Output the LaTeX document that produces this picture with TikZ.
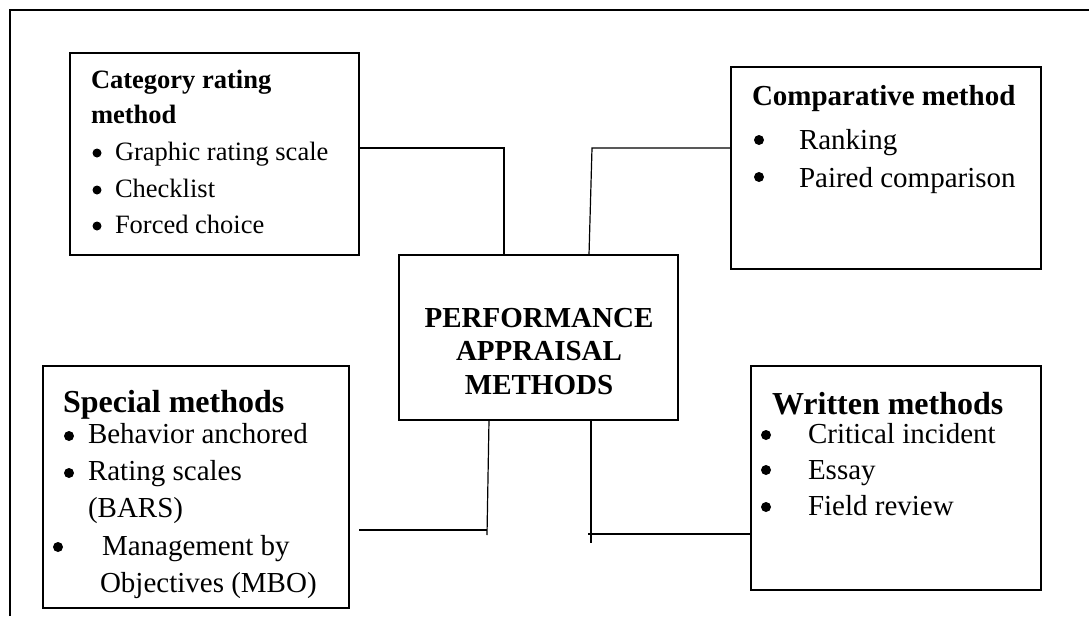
\documentclass[tikz,border=0pt]{standalone}
\usepackage{fontspec}
\setmainfont{Liberation Serif}
\begin{document}
\begin{tikzpicture}[x=1pt,y=-1pt,
  box/.style={draw,line width=1.6pt,rectangle,inner sep=0pt,outer sep=0pt,anchor=north west},
  link/.style={line width=1.2pt},
  txt/.style={anchor=base west,inner sep=0pt,outer sep=0pt},
  ctr/.style={anchor=base,inner sep=0pt,outer sep=0pt},
  dot/.style={circle,fill=black,inner sep=0pt,outer sep=0pt,minimum size=#1},
  dot/.default=10pt,
  fa/.style={font=\fontsize{26.5}{30}\selectfont},
  fab/.style={font=\fontsize{26.5}{30}\selectfont\bfseries},
  fb/.style={font=\fontsize{29}{33}\selectfont},
  fbb/.style={font=\fontsize{29}{33}\selectfont\bfseries},
  fc/.style={font=\fontsize{32}{36}\selectfont\bfseries}]
\useasboundingbox (0,0) rectangle (1089,616);
% outer frame (cropped)
\coordinate (fr) at (10,10);
\draw[line width=1.6pt] (10,616) -- (fr) -- (1089,10);
% boxes
\node[box,minimum width=289pt,minimum height=202pt] (cat) at (70,53) {};
\node[box,minimum width=310pt,minimum height=202pt] (comp) at (731,67) {};
\node[box,minimum width=279pt,minimum height=165pt] (pam) at (399,255) {};
\node[box,minimum width=306pt,minimum height=242pt] (spec) at (43,366) {};
\node[box,minimum width=290pt,minimum height=224pt] (writ) at (751,366) {};
% category text
\node[txt,fab] (c1) at (91,88) {Category rating};
\node[txt,fab] (c2) at (91,123) {method};
\node[dot=9pt] (cb1) at (97,153) {};
\node[txt,fa] (c3) at (115,160) {Graphic rating scale};
\node[dot=9pt] (cb2) at (97,190) {};
\node[txt,fa] (c4) at (115,197) {Checklist};
\node[dot=9pt] (cb3) at (97,226) {};
\node[txt,fa] (c5) at (115,233) {Forced choice};
% comparative text
\node[txt,fbb] (m1) at (752,105) {Comparative method};
\node[dot] (mb1) at (759,140) {};
\node[txt,fb] (m2) at (799,149) {Ranking};
\node[dot] (mb2) at (759,177) {};
\node[txt,fb] (m3) at (799,187) {Paired comparison};
% central text
\node[ctr,fbb] (p1) at (539,327) {PERFORMANCE};
\node[ctr,fbb] (p2) at (539,360) {APPRAISAL};
\node[ctr,fbb] (p3) at (539,394) {METHODS};
% special text
\node[txt,fc] (s1) at (63,412) {Special methods};
\node[dot] (sb1) at (69,436) {};
\node[txt,fb] (s2) at (88,443) {Behavior anchored};
\node[dot] (sb2) at (69,473) {};
\node[txt,fb] (s3) at (88,480) {Rating scales};
\node[txt,fb] (s4) at (88,517) {(BARS)};
\node[dot] (sb3) at (58,547) {};
\node[txt,fb] (s5) at (102,555) {Management by};
\node[txt,fb] (s6) at (100,592) {Objectives (MBO)};
% written text
\node[txt,fc] (w1) at (772,414) {Written methods};
\node[dot] (wb1) at (766,435) {};
\node[txt,fb] (w2) at (808,443) {Critical incident};
\node[dot] (wb2) at (766,470) {};
\node[txt,fb] (w3) at (808,479) {Essay};
\node[dot] (wb3) at (766,507) {};
\node[txt,fb] (w4) at (808,515) {Field review};
% connectors
\coordinate (k1) at (504,148);
\draw[link] (cat.east |- k1) -- (k1) -- (k1 |- pam.north);
\coordinate (k2) at (592,148);
\draw[link] (comp.west |- k2) -- (k2) -- ([xshift=50.5pt]pam.north);
\coordinate (k3) at (487,535);
\coordinate (k3h) at (487,530);
\draw[link] ([xshift=-49.5pt]pam.south) -- (k3);
\draw[link] ([xshift=10pt]spec.east |- k3h) -- (k3h);
\coordinate (k4) at (591,543);
\coordinate (k4h) at (588,534);
\draw[link] ([xshift=52.5pt]pam.south) -- (k4);
\draw[link] (k4h) -- (writ.west |- k4h);
\end{tikzpicture}
\end{document}
